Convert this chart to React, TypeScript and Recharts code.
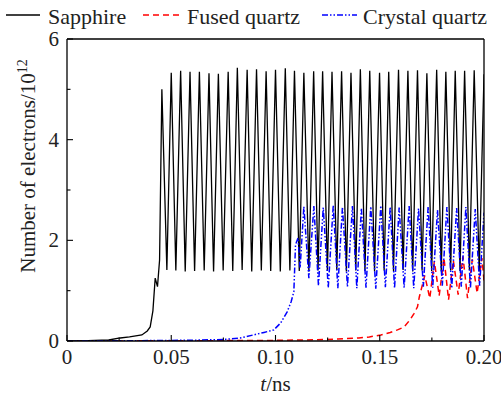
import { Line, LineChart, XAxis, YAxis } from "recharts"

// Number of electrons (×10^12) vs time t (ns).

// Sapphire: slow rise, then sawtooth between ~1.4 and ~5.35
const sapphireT = [
  0, 0.01, 0.02, 0.0255, 0.03, 0.0359, 0.0385, 0.0399, 0.0412, 0.0423, 0.0434, 0.0444,
  0.0455, 0.0479, 0.05, 0.0522, 0.0545, 0.0567, 0.059, 0.0612, 0.0635, 0.0658, 0.0681, 0.0703,
  0.0726, 0.0749, 0.0773, 0.0795, 0.0817, 0.084, 0.0864, 0.0886, 0.0909, 0.0932, 0.0955, 0.0977,
  0.1, 0.1023, 0.1047, 0.1069, 0.1091, 0.1114, 0.1136, 0.116, 0.1183, 0.1204, 0.1226, 0.1249,
  0.1271, 0.1294, 0.1317, 0.134, 0.1362, 0.1385, 0.1407, 0.1429, 0.1452, 0.1475, 0.1499, 0.1521,
  0.1543, 0.1566, 0.159, 0.1612, 0.1635, 0.1658, 0.1681, 0.1703, 0.1726, 0.1749, 0.1773, 0.1795,
  0.1817, 0.184, 0.1862, 0.1885, 0.1907, 0.193, 0.1953, 0.1977, 0.2,
]
const sapphireN = [
  0, 0.005, 0.02, 0.06, 0.08, 0.12, 0.2, 0.28, 0.6, 1.25, 1.08, 1.61,
  5.0, 1.41, 5.33, 1.4, 5.37, 1.38, 5.35, 1.39, 5.35, 1.4, 5.32, 1.38,
  5.31, 1.4, 5.35, 1.39, 5.43, 1.41, 5.39, 1.38, 5.4, 1.4, 5.36, 1.39,
  5.39, 1.38, 5.42, 1.4, 5.37, 1.39, 5.33, 1.38, 5.36, 1.4, 5.36, 1.39,
  5.35, 1.41, 5.36, 1.38, 5.33, 1.4, 5.4, 1.39, 5.37, 1.38, 5.33, 1.4,
  5.35, 1.39, 5.39, 1.41, 5.37, 1.38, 5.38, 1.4, 5.32, 1.39, 5.39, 1.38,
  5.35, 1.4, 5.37, 1.39, 5.37, 1.41, 5.38, 1.38, 5.3,
]

// Fused quartz: stays near zero until ~0.15 ns
const fusedT = [
  0, 0.05, 0.1, 0.12, 0.13, 0.14, 0.145, 0.1505, 0.155, 0.1585, 0.1617, 0.1645, 0.1665, 0.1681,
  0.169, 0.1716, 0.174, 0.1762, 0.1785, 0.1808, 0.183, 0.1853, 0.1876, 0.1899, 0.1921, 0.1944,
  0.1967, 0.199, 0.2,
]
const fusedN = [
  0, 0.004, 0.012, 0.025, 0.04, 0.06, 0.08, 0.12, 0.17, 0.22, 0.28, 0.42, 0.55, 0.68,
  0.88, 1.3, 0.85, 1.58, 0.9, 1.65, 0.82, 1.6, 0.92, 1.68, 0.85, 1.62,
  0.95, 1.65, 1.2,
]

// Crystal quartz: rises near 0.1 ns, then oscillates ~1.05–2.67
const crystalT = [
  0, 0.02, 0.04, 0.06, 0.075, 0.083, 0.0894, 0.0945, 0.0992, 0.1025, 0.1056, 0.1075, 0.1088,
  0.1096, 0.1108, 0.1118, 0.1136, 0.116, 0.1184, 0.1206, 0.1229, 0.1253, 0.1277, 0.1299, 0.1321,
  0.1345, 0.1369, 0.139, 0.1412, 0.1434, 0.1457, 0.1481, 0.1505, 0.1527, 0.155, 0.1571, 0.1593,
  0.1617, 0.1641, 0.1663, 0.1686, 0.1709, 0.1732, 0.1754, 0.1777, 0.18, 0.1822, 0.1845, 0.1869,
  0.1891, 0.1913, 0.1935, 0.1958, 0.1979, 0.2,
]
const crystalN = [
  0, 0.004, 0.008, 0.015, 0.03, 0.06, 0.12, 0.17, 0.22, 0.36, 0.58, 0.78, 0.98,
  1.91, 2.05, 1.45, 2.67, 1.25, 2.68, 1.1, 2.65, 1.06, 2.7, 1.05, 2.66,
  1.08, 2.68, 1.05, 2.64, 1.06, 2.67, 1.04, 2.69, 1.07, 2.66, 1.05, 2.65,
  1.06, 2.68, 1.05, 2.63, 1.08, 2.67, 1.06, 2.6, 1.1, 2.66, 1.05, 2.64,
  1.08, 2.66, 1.06, 2.62, 1.1, 2.55,
]

const xTicks = [0, 0.025, 0.05, 0.075, 0.1, 0.125, 0.15, 0.175, 0.2]
const xTickLabels = ["0", "", "0.05", "", "0.10", "", "0.15", "", "0.20"]
const yTicks = [0, 1, 2, 3, 4, 5, 6]
const yTickLabels = ["0", "", "2", "", "4", "", "6"]

const FONT = '"Liberation Serif", "DejaVu Serif", serif'
const W = 501
const H = 396

const toRows = (ts: number[], ns: number[]) => ts.map((t, i) => ({ t, n: ns[i] }))

const sapphire = toRows(sapphireT, sapphireN)
const fused = toRows(fusedT, fusedN)
const crystal = toRows(crystalT, crystalN)

const txt = (size: number) => ({ fontFamily: FONT, fontSize: size, fill: "#222" })

const XTick = (props: any) => {
  const { x, y, payload } = props
  const i = xTicks.findIndex((v) => Math.abs(v - payload.value) < 1e-9)
  const label = i >= 0 ? xTickLabels[i] : ""
  return (
    <g>
      <line x1={x} x2={x} y1={y} y2={y - (label ? 6 : 3.5)} stroke="#000" strokeWidth={1.1} />
      {label && (
        <text x={x} y={y + 22.5} textAnchor="middle" style={txt(21)}>
          {label}
        </text>
      )}
    </g>
  )
}

const YTick = (props: any) => {
  const { x, y, payload } = props
  const i = yTicks.findIndex((v) => Math.abs(v - payload.value) < 1e-9)
  const label = i >= 0 ? yTickLabels[i] : ""
  return (
    <g>
      <line x1={x} x2={x + (label ? 6 : 3.5)} y1={y} y2={y} stroke="#000" strokeWidth={1.1} />
      {label && (
        <text x={x - 8} y={y + 7} textAnchor="end" style={txt(21)}>
          {label}
        </text>
      )}
    </g>
  )
}

const LegendRow = () => (
  <g>
    <line x1={6} x2={40} y1={15} y2={15} stroke="#000" strokeWidth={1.3} />
    <text x={48} y={23.5} style={txt(22)}>Sapphire</text>
    <line x1={143} x2={180} y1={15} y2={15} stroke="#ff0000" strokeWidth={1.4} strokeDasharray="6 4" />
    <text x={187} y={23.5} style={txt(22)}>Fused quartz</text>
    <line x1={322} x2={357} y1={15} y2={15} stroke="#0000ff" strokeWidth={1.4} strokeDasharray="6 2 1.5 2 1.5 2" />
    <text x={363} y={23.5} style={txt(22)}>Crystal quartz</text>
  </g>
)

const AxisTitles = () => (
  <g>
    <text x={275.5} y={391} textAnchor="middle" style={txt(21)}>
      <tspan fontStyle="italic">t</tspan>
      <tspan>/ns</tspan>
    </text>
    <text x={28} y={166} textAnchor="middle" transform="rotate(-90 28 166)" dy={7} style={txt(21)}>
      <tspan>Number of electrons/10</tspan>
      <tspan style={{ fontSize: 14 }} dy={-8}>12</tspan>
    </text>
  </g>
)

export default function App() {
  return (
    <div style={{ position: "absolute", left: 0, top: 0, width: W, height: H, background: "#fff" }}>
      <LineChart width={W} height={H} margin={{ top: 38, right: 16, bottom: 25, left: 27 }}>
        <XAxis
          xAxisId="b"
          dataKey="t"
          type="number"
          domain={[0, 0.2]}
          ticks={xTicks}
          interval={0}
          height={30}
          tickSize={0}
          tickMargin={0}
          tickLine={false}
          tick={<XTick />}
          axisLine={{ stroke: "#000", strokeWidth: 1.3 }}
          allowDataOverflow
        />
        <XAxis
          xAxisId="top"
          orientation="top"
          type="number"
          domain={[0, 0.2]}
          height={1}
          tick={false}
          tickLine={false}
          axisLine={{ stroke: "#000", strokeWidth: 1.3 }}
        />
        <YAxis
          yAxisId="l"
          type="number"
          domain={[0, 6]}
          ticks={yTicks}
          interval={0}
          width={40}
          tickSize={0}
          tickMargin={0}
          tickLine={false}
          tick={<YTick />}
          axisLine={{ stroke: "#000", strokeWidth: 1.3 }}
          allowDataOverflow
        />
        <YAxis
          yAxisId="r"
          orientation="right"
          type="number"
          domain={[0, 6]}
          width={1}
          tick={false}
          tickLine={false}
          axisLine={{ stroke: "#000", strokeWidth: 1.3 }}
        />
        <Line
          xAxisId="b"
          yAxisId="l"
          data={fused}
          dataKey="n"
          type="linear"
          stroke="#ff0000"
          strokeWidth={1.5}
          strokeDasharray="6 4"
          dot={false}
          isAnimationActive={false}
        />
        <Line
          xAxisId="b"
          yAxisId="l"
          data={sapphire}
          dataKey="n"
          type="linear"
          stroke="#000"
          strokeWidth={1.3}
          dot={false}
          isAnimationActive={false}
        />
        <Line
          xAxisId="b"
          yAxisId="l"
          data={crystal}
          dataKey="n"
          type="linear"
          stroke="#0000ff"
          strokeWidth={1.5}
          strokeDasharray="6 2 1.5 2 1.5 2"
          dot={false}
          isAnimationActive={false}
        />
        <LegendRow />
        <AxisTitles />
      </LineChart>
    </div>
  )
}
